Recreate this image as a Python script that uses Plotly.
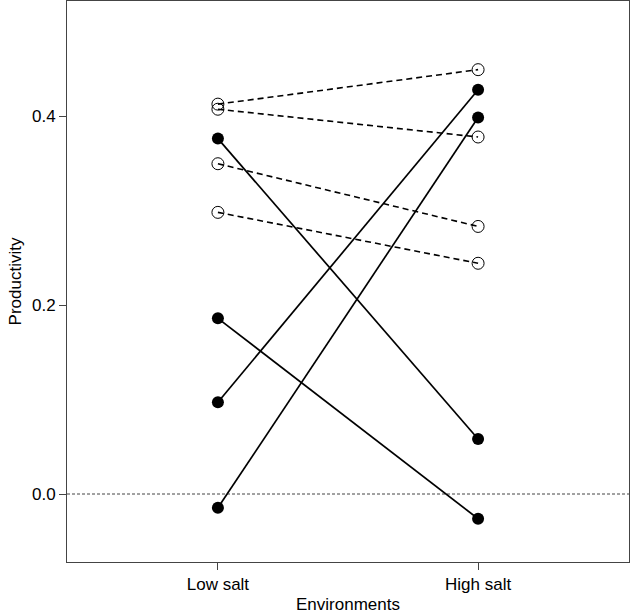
import plotly.graph_objects as go

environments = ["Low salt", "High salt"]
env_pos = [1, 2]

# Lines with open circles (dashed)
open_low = [0.4128, 0.4074, 0.3497, 0.2982]
open_high = [0.4493, 0.3780, 0.2833, 0.2443]

# Lines with filled circles (solid)
filled_low = [0.3763, 0.1860, 0.0971, -0.0146]
filled_high = [0.0582, -0.0262, 0.4280, 0.3986]

y_ticks = [0.0, 0.2, 0.4]
y_tick_labels = ["0.0", "0.2", "0.4"]

fig = go.Figure()

# reference line at zero
fig.add_trace(go.Scatter(
    x=[0.42, 2.58], y=[0, 0], mode="lines",
    line=dict(color="#444444", width=1, dash="3px,2px"),
    hoverinfo="skip", showlegend=False))

for lo, hi in zip(open_low, open_high):
    fig.add_trace(go.Scatter(
        x=env_pos, y=[lo, hi], mode="lines+markers",
        line=dict(color="black", width=1.6, dash="6px,4px"),
        marker=dict(symbol="circle-open", size=12, color="black",
                    line=dict(width=1, color="black")),
        showlegend=False))

for lo, hi in zip(filled_low, filled_high):
    fig.add_trace(go.Scatter(
        x=env_pos, y=[lo, hi], mode="lines+markers",
        line=dict(color="black", width=1.7),
        marker=dict(symbol="circle", size=12, color="black"),
        showlegend=False))

fig.update_layout(
    width=630, height=615,
    margin=dict(l=67, r=1, t=1, b=53),
    plot_bgcolor="white", paper_bgcolor="white",
    font=dict(family="Liberation Sans, Arial, Helvetica, sans-serif", size=17, color="black"),
    xaxis=dict(
        range=[0.42, 2.58], tickvals=env_pos, ticktext=environments,
        showgrid=False, zeroline=False,
        showline=True, mirror=True, linecolor="#444444", linewidth=1,
        ticks="outside", ticklen=7, tickcolor="#444444",
        title=dict(text="Environments", standoff=4, font=dict(size=17)),
        tickfont=dict(size=17),
    ),
    yaxis=dict(
        range=[-0.072, 0.522], tickvals=y_ticks, ticktext=y_tick_labels,
        showgrid=False, zeroline=False,
        showline=True, mirror=True, linecolor="#444444", linewidth=1,
        ticks="outside", ticklen=7, tickcolor="#444444",
        title=dict(text="Productivity", standoff=6, font=dict(size=17)),
        tickfont=dict(size=17),
    ),
)

fig.write_html("out.html", config={"displayModeBar": False},
               post_script="document.body.style.margin='0';document.body.style.overflow='hidden';")
